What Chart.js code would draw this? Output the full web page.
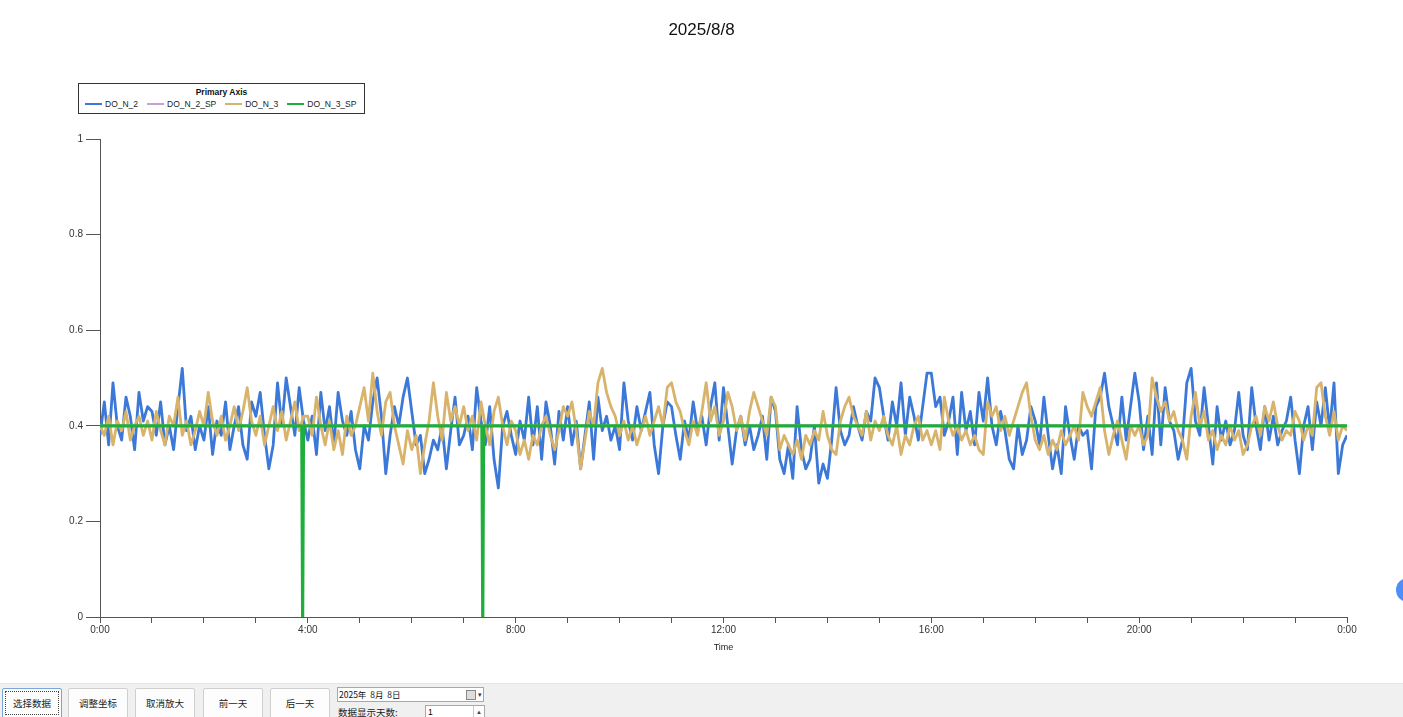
<!DOCTYPE html>
<html>
<head>
<meta charset="utf-8">
<title>2025/8/8</title>
<script src="https://cdn.jsdelivr.net/npm/chart.js@4.4.1/dist/chart.umd.min.js"></script>
<style>
  html, body { margin: 0; padding: 0; background: #fff; width: 1403px; height: 717px; overflow: hidden; font-family: 'Liberation Sans', Arial, sans-serif; }
  #chart { position: absolute; left: 0; top: 0; }
  #title { position: absolute; left: 0; width: 1403px; top: 20px; text-align: center; font-size: 17px; color: #111; }
  #legend { position: absolute; left: 78px; top: 83px; width: 285px; height: 29px; border: 1px solid #333; background: #fff; }
  #legend .lt { text-align: center; font-size: 8.5px; font-weight: bold; margin-top: 3px; color: #111; }
  #legend .items { display: flex; padding-left: 6px; margin-top: 2px; }
  #legend .it { display: flex; align-items: center; margin-right: 9px; font-size: 8.5px; color: #222; }
  #legend .mk { width: 17px; height: 2px; margin-right: 3px; }
  #bar { position: absolute; left: 0; top: 683px; width: 1403px; height: 34px; background: #f0f0f0; border-top: 1px solid #e4e4e4; }
  .btn { position: absolute; top: 4px; width: 60px; height: 32px; background: #fdfdfd; border: 1px solid #cfcfcf; border-radius: 2px; box-sizing: border-box; font-family: 'Noto Sans CJK SC', sans-serif; font-size: 9.5px; color: #222; text-align: center; line-height: 28px; }
  .btn.sel { border: 1px solid #7aa6d8; }
  .btn.sel span { border: 1px dotted #444; padding: 4px 7px; }
  #date { position: absolute; left: 337px; top: 3px; width: 147px; height: 15px; background: #fff; border: 1px solid #a8a8a8; box-sizing: border-box; font-family: 'Noto Sans CJK SC', sans-serif; font-size: 8.5px; line-height: 13px; padding-left: 1px; color: #111; }
  #date .ic { position: absolute; right: 7px; top: 2px; width: 8px; height: 8px; border: 1px solid #888; background: #ddd; }
  #date .ar { position: absolute; right: 1px; top: 0; font-size: 7px; color: #333; }
  #days { position: absolute; left: 338px; top: 21px; font-family: 'Noto Sans CJK SC', sans-serif; font-size: 9.5px; color: #222; }
  #spin { position: absolute; left: 425px; top: 21px; width: 60px; height: 16px; background: #fff; border: 1px solid #a8a8a8; box-sizing: border-box; font-size: 8.5px; padding-left: 2px; line-height: 12px; }
  #spin .sb { position: absolute; right: 0; top: 0; width: 10px; height: 14px; border-left: 1px solid #ccc; font-size: 6px; text-align: center; color: #444; }
  #dot { position: absolute; left: 1396px; top: 578px; width: 24px; height: 24px; border-radius: 50%; background: #4f8ef7; }
</style>
</head>
<body>
<canvas id="chart" width="1403" height="683"></canvas>
<div id="title">2025/8/8</div>
<div id="legend"><div class="lt">Primary Axis</div><div class="items" id="legendItems"></div></div>
<div id="bar">
  <div class="btn sel" style="left:2px"><span>选择数据</span></div>
  <div class="btn" style="left:68px">调整坐标</div>
  <div class="btn" style="left:135px">取消放大</div>
  <div class="btn" style="left:203px">前一天</div>
  <div class="btn" style="left:270px">后一天</div>
  <div id="date">2025年&nbsp;&nbsp;8月&nbsp;&nbsp;8日<div class="ic"></div><div class="ar">▾</div></div>
  <div id="days">数据显示天数:</div>
  <div id="spin">1<div class="sb">▲<br>▼</div></div>
</div>
<div id="dot"></div>
<script>
// Sampling interval of the DO_N_2 / DO_N_3 series (minutes), 0:00 .. 24:00
const sampleMinutes = 5;

// DO_N_2 (blue), one row per hour
const doN2 = [
  0.38,0.45,0.36,0.49,0.40,0.37,0.46,0.42,0.35,0.47,0.41,0.44,
  0.43,0.38,0.45,0.36,0.40,0.35,0.44,0.52,0.39,0.42,0.35,0.40,
  0.37,0.44,0.34,0.41,0.38,0.45,0.35,0.40,0.44,0.36,0.33,0.45,
  0.42,0.47,0.38,0.31,0.36,0.49,0.40,0.50,0.44,0.38,0.48,0.41,
  0.37,0.42,0.34,0.47,0.39,0.44,0.36,0.47,0.41,0.38,0.43,0.35,
  0.31,0.40,0.37,0.45,0.50,0.42,0.30,0.38,0.44,0.40,0.46,0.50,
  0.43,0.36,0.38,0.30,0.33,0.37,0.35,0.40,0.31,0.39,0.46,0.36,
  0.38,0.42,0.35,0.48,0.41,0.36,0.44,0.33,0.27,0.40,0.43,0.38,
  0.34,0.41,0.37,0.46,0.36,0.44,0.33,0.45,0.40,0.32,0.43,0.37,
  0.44,0.36,0.41,0.31,0.38,0.45,0.33,0.46,0.39,0.42,0.37,0.40,
  0.35,0.49,0.41,0.37,0.44,0.39,0.43,0.47,0.36,0.30,0.40,0.45,
  0.44,0.38,0.33,0.41,0.37,0.45,0.39,0.42,0.36,0.44,0.49,0.37,
  0.48,0.40,0.32,0.39,0.42,0.36,0.40,0.35,0.38,0.42,0.33,0.46,
  0.43,0.33,0.30,0.36,0.29,0.44,0.35,0.31,0.33,0.40,0.28,0.32,
  0.29,0.37,0.48,0.39,0.36,0.38,0.44,0.40,0.37,0.43,0.41,0.50,
  0.48,0.42,0.37,0.45,0.40,0.49,0.38,0.46,0.42,0.37,0.44,0.51,
  0.51,0.44,0.46,0.38,0.41,0.46,0.34,0.47,0.39,0.43,0.36,0.47,
  0.41,0.50,0.40,0.36,0.43,0.39,0.33,0.31,0.40,0.34,0.37,0.44,
  0.41,0.36,0.46,0.38,0.31,0.36,0.30,0.44,0.38,0.33,0.40,0.38,
  0.39,0.31,0.44,0.46,0.51,0.44,0.40,0.36,0.46,0.37,0.44,0.51,
  0.45,0.35,0.42,0.34,0.49,0.36,0.48,0.41,0.39,0.33,0.37,0.49,
  0.52,0.41,0.38,0.48,0.40,0.32,0.44,0.37,0.41,0.36,0.39,0.47,
  0.38,0.35,0.48,0.40,0.35,0.44,0.37,0.42,0.36,0.39,0.41,0.46,
  0.37,0.30,0.40,0.44,0.35,0.45,0.40,0.48,0.39,0.49,0.30,0.36,
  0.38
];

// DO_N_3 (tan), one row per hour
const doN3 = [
  0.40,0.38,0.42,0.36,0.41,0.39,0.43,0.37,0.40,0.42,0.38,0.41,
  0.37,0.43,0.39,0.36,0.42,0.40,0.46,0.38,0.41,0.36,0.39,0.43,
  0.40,0.47,0.41,0.38,0.42,0.37,0.40,0.44,0.39,0.43,0.48,0.41,
  0.38,0.42,0.36,0.40,0.44,0.39,0.43,0.37,0.41,0.45,0.39,0.42,
  0.42,0.38,0.46,0.40,0.36,0.41,0.35,0.39,0.34,0.42,0.38,0.40,
  0.44,0.48,0.41,0.51,0.43,0.38,0.45,0.47,0.40,0.36,0.32,0.39,
  0.35,0.38,0.30,0.36,0.41,0.49,0.42,0.37,0.47,0.41,0.44,0.40,
  0.44,0.39,0.42,0.37,0.45,0.40,0.36,0.43,0.46,0.40,0.36,0.41,
  0.39,0.34,0.37,0.33,0.38,0.36,0.40,0.42,0.38,0.35,0.39,0.44,
  0.42,0.45,0.39,0.31,0.37,0.43,0.40,0.49,0.52,0.47,0.44,0.42,
  0.38,0.41,0.37,0.40,0.36,0.39,0.42,0.38,0.41,0.44,0.40,0.48,
  0.49,0.45,0.43,0.39,0.36,0.41,0.38,0.43,0.49,0.41,0.44,0.38,
  0.41,0.47,0.44,0.39,0.42,0.37,0.43,0.47,0.44,0.41,0.38,0.46,
  0.44,0.35,0.38,0.36,0.34,0.37,0.33,0.38,0.36,0.39,0.37,0.43,
  0.38,0.35,0.34,0.41,0.44,0.46,0.42,0.40,0.38,0.43,0.37,0.41,
  0.39,0.42,0.38,0.36,0.40,0.34,0.38,0.36,0.40,0.42,0.37,0.39,
  0.36,0.39,0.35,0.46,0.41,0.38,0.40,0.37,0.39,0.36,0.38,0.35,
  0.34,0.45,0.42,0.44,0.39,0.42,0.38,0.41,0.44,0.47,0.49,0.42,
  0.37,0.35,0.38,0.34,0.37,0.35,0.39,0.36,0.38,0.40,0.37,0.47,
  0.44,0.42,0.45,0.48,0.39,0.34,0.38,0.41,0.37,0.33,0.40,0.38,
  0.40,0.36,0.38,0.50,0.46,0.43,0.45,0.41,0.43,0.39,0.37,0.33,
  0.42,0.47,0.40,0.43,0.37,0.39,0.35,0.38,0.36,0.40,0.37,0.39,
  0.34,0.36,0.40,0.42,0.38,0.44,0.41,0.45,0.40,0.37,0.39,0.38,
  0.43,0.41,0.37,0.40,0.38,0.48,0.49,0.42,0.38,0.43,0.37,0.40,
  0.39
];

// Set points (minute of day, value)
const spN2Times = [0, 1440];
const spN2Values = [0.4, 0.4];
const spN3Times = [0, 233, 234, 235, 441, 442, 443, 1440];
const spN3Values = [0.4, 0.4, 0, 0.4, 0.4, 0, 0.4, 0.4];

const seriesNames = ['DO_N_2', 'DO_N_2_SP', 'DO_N_3', 'DO_N_3_SP'];
const seriesColors = ['#3b78d8', '#c8a2d0', '#d8b36c', '#1eae3c'];
const hourTicks = [0,1,2,3,4,5,6,7,8,9,10,11,12,13,14,15,16,17,18,19,20,21,22,23,24];
const yTicks = [0, 0.2, 0.4, 0.6, 0.8, 1];

function toPoints(values) {
  return values.map((v, i) => ({ x: i * sampleMinutes, y: v }));
}
function pairPoints(times, values) {
  return times.map((t, i) => ({ x: t, y: values[i] }));
}

function buildLegend() {
  const box = document.getElementById('legendItems');
  seriesNames.forEach((name, i) => {
    const it = document.createElement('div');
    it.className = 'it';
    it.innerHTML = `<span class="mk" style="background:${seriesColors[i]}"></span>${name}`;
    box.appendChild(it);
  });
}

function initChart() {
  const axisColor = '#555';
  const tickFont = { size: 10, family: 'Liberation Sans' };
  new Chart(document.getElementById('chart'), {
    type: 'line',
    data: {
      datasets: [
        { label: seriesNames[0], data: toPoints(doN2), borderColor: seriesColors[0], borderWidth: 2.8, order: 3 },
        { label: seriesNames[1], data: pairPoints(spN2Times, spN2Values), borderColor: seriesColors[1], borderWidth: 2.4, order: 2 },
        { label: seriesNames[2], data: toPoints(doN3), borderColor: seriesColors[2], borderWidth: 2.8, order: 1 },
        { label: seriesNames[3], data: pairPoints(spN3Times, spN3Values), borderColor: seriesColors[3], borderWidth: 3.2, order: 0 }
      ]
    },
    options: {
      responsive: false,
      animation: false,
      layout: { padding: { top: 139, right: 56, bottom: 26, left: 0 } },
      plugins: { legend: { display: false }, tooltip: { enabled: false } },
      elements: { point: { radius: 0 }, line: { tension: 0, borderJoinStyle: 'round' } },
      scales: {
        x: {
          type: 'linear', min: 0, max: 1440,
          afterBuildTicks: s => { s.ticks = hourTicks.map(h => ({ value: h * 60 })); },
          afterFit: s => { s.height = 40; },
          ticks: {
            autoSkip: false, maxRotation: 0, padding: 1, color: '#333', font: tickFont,
            callback: v => (v % 240 === 0 ? ((v / 60) % 24) + ':00' : '')
          },
          grid: { drawOnChartArea: false, tickLength: 6, color: axisColor, tickColor: axisColor },
          border: { color: axisColor, width: 1 },
          title: { display: true, text: 'Time', color: '#222', font: { size: 9, family: 'Liberation Sans' }, padding: { top: 5 } }
        },
        y: {
          min: 0, max: 1,
          afterBuildTicks: s => { s.ticks = yTicks.map(v => ({ value: v })); },
          afterFit: s => { s.width = 100; },
          ticks: { color: '#333', font: tickFont, padding: 3, callback: v => String(+v.toFixed(1)) },
          grid: { drawOnChartArea: false, tickLength: 14, color: axisColor, tickColor: axisColor },
          border: { color: axisColor, width: 1 }
        }
      }
    }
  });
}

document.addEventListener('DOMContentLoaded', () => {
  buildLegend();
  initChart();
});
</script>
</body>
</html>
